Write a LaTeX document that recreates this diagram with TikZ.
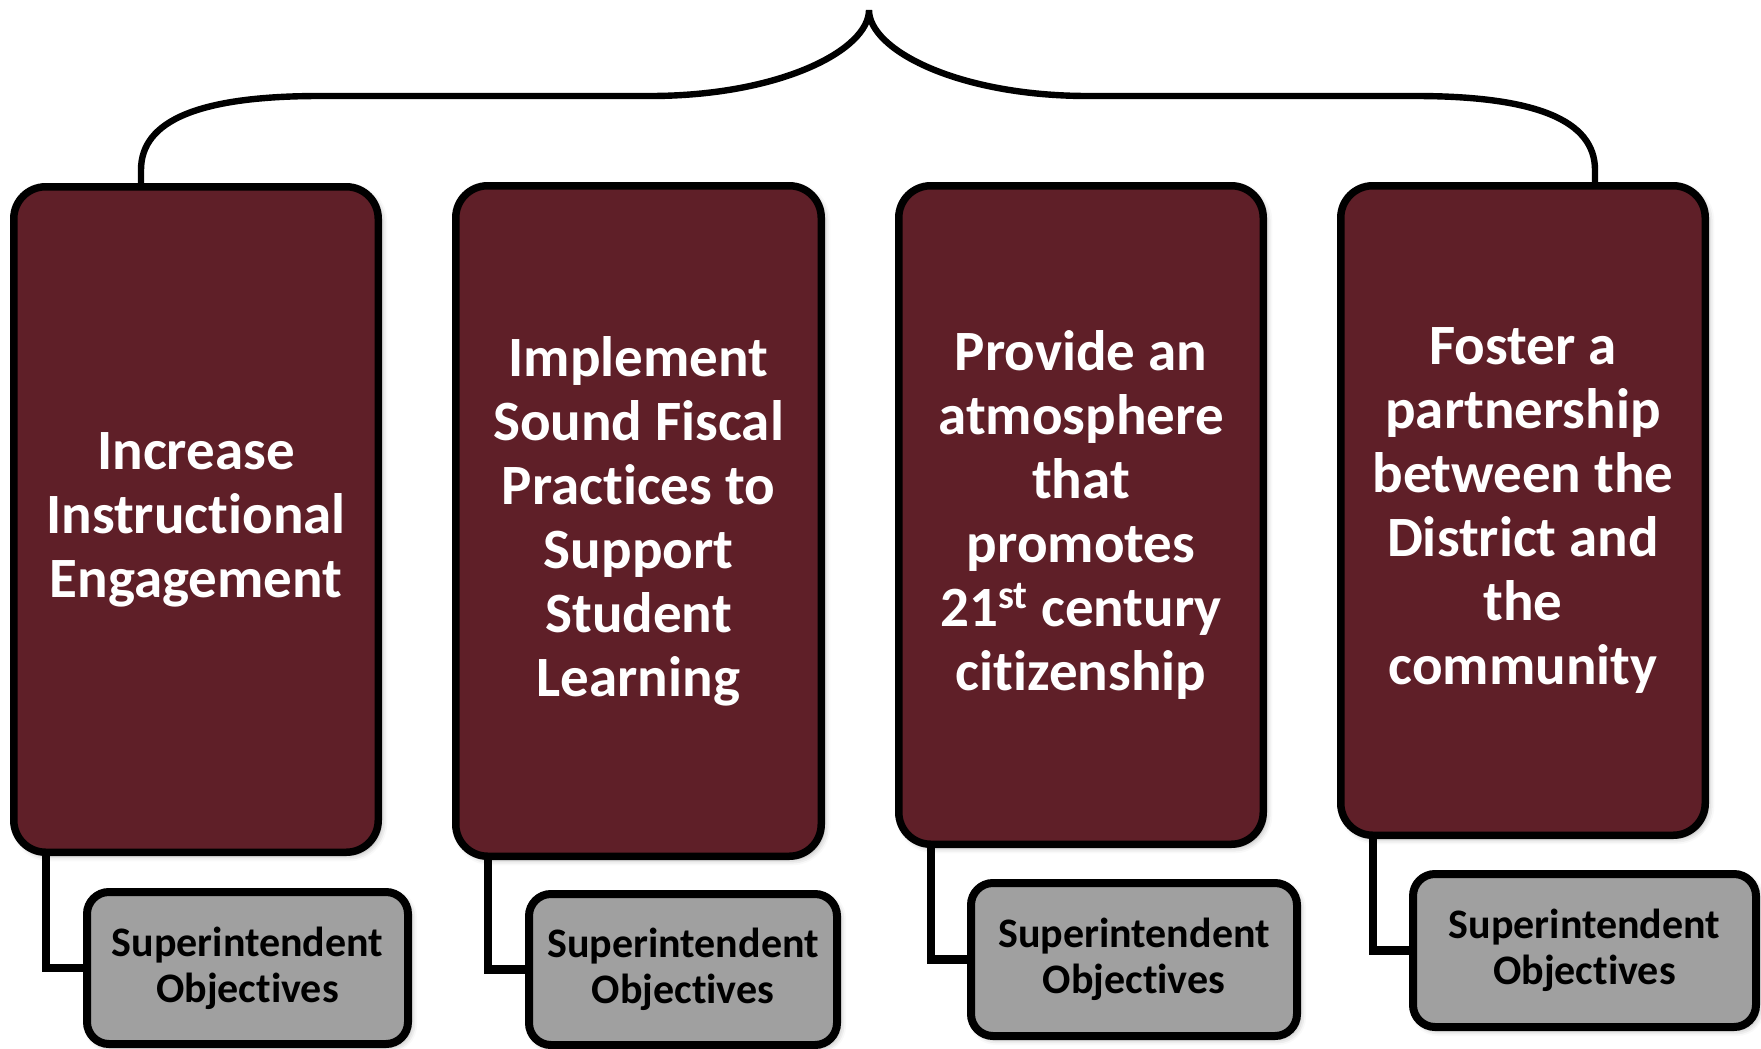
\documentclass[tikz,border=0pt]{standalone}
\usepackage{fontspec}
\setmainfont{Carlito}[Ligatures={NoCommon}]
\usetikzlibrary{shadows.blur}
\definecolor{goalmaroon}{RGB}{95,31,40}
\definecolor{objgray}{RGB}{160,160,160}
\begin{document}
\begin{tikzpicture}[x=0.5pt,y=-0.5pt,
  goalbox/.style={draw=black, line width=3.75pt, fill=goalmaroon, rounded corners=16pt,
    text=white, font=\fontsize{28.5}{32}\selectfont\bfseries, align=center, inner sep=0pt,
    blur shadow={shadow xshift=1.5pt, shadow yshift=-1.5pt, shadow blur radius=3pt, shadow opacity=35}},
  objbox/.style={draw=black, line width=4pt, fill=objgray, rounded corners=11pt,
    text=black, font=\fontsize{21}{23}\selectfont\bfseries, align=center, inner sep=0pt,
    blur shadow={shadow xshift=1.5pt, shadow yshift=-1.5pt, shadow blur radius=3pt, shadow opacity=35}},
  conn/.style={draw=black, line width=4.3pt, line join=miter},
  bracepath/.style={draw=black, line width=3.2pt, line cap=round}]
\useasboundingbox (0,0) rectangle (1761,1049);

% goal boxes
\node[goalbox, minimum width=182.25pt, minimum height=332.75pt] (b1) at (196,519.5)
  {Increase\\Instructional\\Engagement};
\node[goalbox, minimum width=182.75pt, minimum height=335.25pt] (b2) at (638.5,521)
  {Implement\\Sound Fiscal\\Practices to\\Support\\Student\\Learning};
\node[goalbox, minimum width=182.25pt, minimum height=329.25pt] (b3) at (1081,515)
  {Provide an\\atmosphere\\that\\promotes\\21\textsuperscript{st} century\\citizenship};
\node[goalbox, minimum width=182.25pt, minimum height=324.75pt] (b4) at (1523,510.5)
  {Foster a\\partnership\\between the\\District and\\the\\community};

% objective boxes
\node[objbox, minimum width=160.5pt, minimum height=76pt] (g1) at (247.5,968)
  {Superintendent\\Objectives};
\node[objbox, minimum width=154pt, minimum height=75.5pt] (g2) at (683,969.5)
  {Superintendent\\Objectives};
\node[objbox, minimum width=163pt, minimum height=76.5pt] (g3) at (1134,959.5)
  {Superintendent\\Objectives};
\node[objbox, minimum width=171.5pt, minimum height=76.5pt] (g4) at (1584.5,950.5)
  {Superintendent\\Objectives};

% connectors
\draw[conn] ([xshift=18pt]b1.south west) |- (g1.west);
\draw[conn] ([xshift=18pt]b2.south west) |- (g2.west);
\draw[conn] ([xshift=18pt]b3.south west) |- (g3.west);
\draw[conn] ([xshift=18pt]b4.south west) |- (g4.west);

% brace
\coordinate (bl) at (141,185);
\coordinate (br) at (1595,185);
\coordinate (tip) at (869,10);
\draw[bracepath] (bl) -- (141,170) .. controls (141,120) and (200,96) .. (320,96)
  -- (650,96) .. controls (780,96) and (869,50) .. (tip)
  .. controls (869,50) and (958,96) .. (1088,96)
  -- (1415,96) .. controls (1535,96) and (1595,120) .. (1595,170) -- (br);
\end{tikzpicture}
\end{document}
